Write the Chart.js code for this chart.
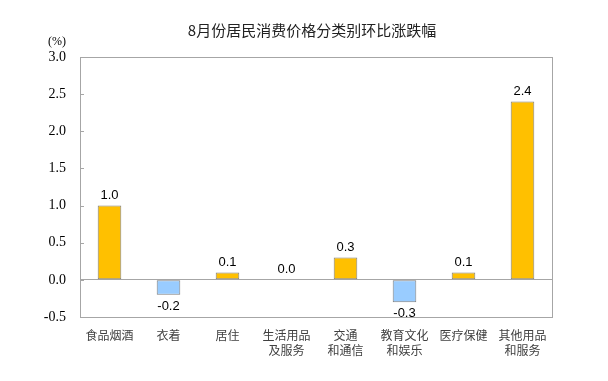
<!DOCTYPE html>
<html>
<head>
<meta charset="utf-8">
<script src="https://cdn.jsdelivr.net/npm/chart.js@4"></script>
<style>
  html, body { margin: 0; padding: 0; background: #fff; }
  #wrap { width: 608px; height: 381px; }
</style>
</head>
<body>
<div id="wrap"><canvas id="cpiChart" width="608" height="381"></canvas></div>
<script>
// --- Data ---
const chartTitle = '8月份居民消费价格分类别环比涨跌幅';
const unitLabel = '(%)';
const categories = [
    ['食品烟酒'],
    ['衣着'],
    ['居住'],
    ['生活用品', '及服务'],
    ['交通', '和通信'],
    ['教育文化', '和娱乐'],
    ['医疗保健'],
    ['其他用品', '和服务']
];
const changes = [1.0, -0.2, 0.1, 0.0, 0.3, -0.3, 0.1, 2.4];
const yMin = -0.5;
const yMax = 3.0;
const yStep = 0.5;

// --- Colours ---
const upColor = '#FFC000';
const downColor = '#99CCFF';
const edgeColor = '#7F7F7F';
const frameColor = '#A6A6A6';

// frame, inward ticks, title, unit and value labels
const decorPlugin = {
    id: 'decor',
    beforeDatasetsDraw(chart) {
        const { ctx, chartArea: a, scales } = chart;
        ctx.save();
        ctx.strokeStyle = frameColor;
        ctx.lineWidth = 1;
        ctx.strokeRect(a.left + 0.5, a.top + 0.5, a.right - a.left, a.bottom - a.top);
        // short ticks pointing into the plot
        scales.y.ticks.forEach(t => {
            const y = Math.round(scales.y.getPixelForValue(t.value)) + 0.5;
            ctx.beginPath();
            ctx.moveTo(a.left, y);
            ctx.lineTo(a.left + 4, y);
            ctx.stroke();
        });
        ctx.restore();
    },
    afterDatasetsDraw(chart) {
        const { ctx, chartArea: a } = chart;
        ctx.save();
        // title
        ctx.fillStyle = '#222';
        ctx.font = '15px "Noto Sans CJK SC"';
        ctx.textAlign = 'center';
        ctx.textBaseline = 'middle';
        ctx.fillText(chartTitle, (a.left + a.right) / 2 - 4, 30);
        // unit
        ctx.fillStyle = '#000';
        ctx.font = '12px "Liberation Serif"';
        ctx.fillText(unitLabel, 57, 42);
        // value labels
        ctx.font = '13px "Liberation Sans"';
        const meta = chart.getDatasetMeta(0);
        meta.data.forEach((bar, i) => {
            const v = changes[i];
            if (v < 0) {
                ctx.textBaseline = 'top';
                ctx.fillText(v.toFixed(1), bar.x, bar.y + 5);
            } else {
                ctx.textBaseline = 'bottom';
                ctx.fillText(v.toFixed(1), bar.x, bar.y - 4);
            }
        });
        ctx.restore();
    }
};

const ctx = document.getElementById('cpiChart').getContext('2d');
new Chart(ctx, {
    type: 'bar',
    data: {
        labels: categories,
        datasets: [{
            data: changes,
            backgroundColor: changes.map(v => v < 0 ? downColor : upColor),
            borderColor: edgeColor,
            borderWidth: 1,
            borderSkipped: false,
            categoryPercentage: 1.0,
            barPercentage: 0.4
        }]
    },
    options: {
        responsive: false,
        animation: false,
        devicePixelRatio: 1,
        layout: {
            padding: { left: 0, right: 56, top: 57, bottom: 14 }
        },
        plugins: {
            legend: { display: false },
            title: { display: false },
            tooltip: { enabled: false }
        },
        scales: {
            x: {
                grid: { display: false },
                border: { display: false },
                ticks: {
                    color: '#404040',
                    font: { family: '"Noto Sans CJK SC"', size: 12, lineHeight: 1.25 },
                    padding: 3,
                    maxRotation: 0,
                    autoSkip: false
                },
                afterFit(scale) { scale.height = 50; }
            },
            y: {
                min: yMin,
                max: yMax,
                grid: {
                    drawTicks: false,
                    color: c => (c.tick && c.tick.value === 0) ? frameColor : 'rgba(0,0,0,0)',
                    lineWidth: 1
                },
                border: { display: false },
                ticks: {
                    stepSize: yStep,
                    color: '#000',
                    font: { family: '"Liberation Serif"', size: 14 },
                    padding: 14,
                    callback: v => v.toFixed(1)
                },
                afterFit(scale) { scale.width = 80; }
            }
        }
    },
    plugins: [decorPlugin]
});
</script>
</body>
</html>
